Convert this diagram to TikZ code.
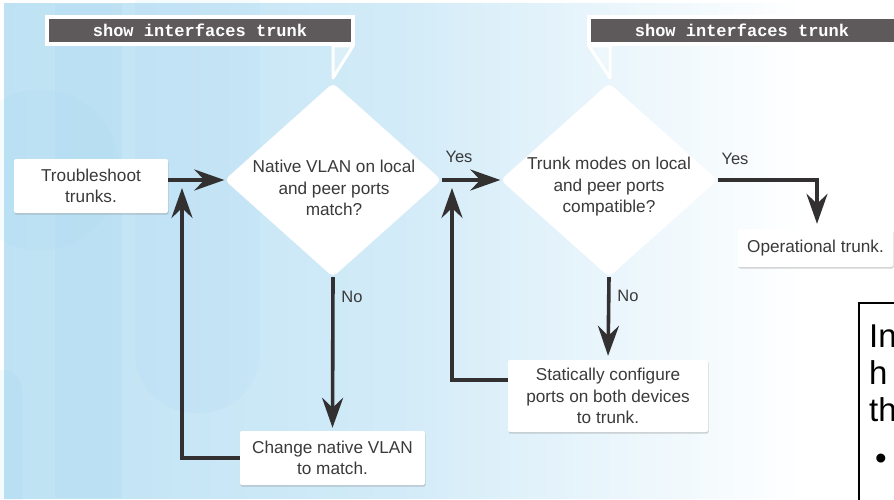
\documentclass[tikz,border=0pt]{standalone}
\usepackage{fontspec}
\setmainfont{Liberation Sans}
\newfontfamily\monof{Liberation Mono}
\usetikzlibrary{shapes.geometric,arrows.meta,shadows,calc}

\definecolor{bgl}{RGB}{190,226,244}
\definecolor{bgm}{RGB}{210,235,248}
\definecolor{calgray}{RGB}{94,90,91}
\definecolor{arrc}{RGB}{50,48,49}
\definecolor{txt}{RGB}{58,58,58}
\definecolor{pillc}{RGB}{140,200,235}

\pgfdeclarehorizontalshading{bgshade}{100bp}{color(0bp)=(bgl); color(25bp)=(bgl); color(47bp)=(bgm); color(70bp)=(white); color(100bp)=(white)}

\begin{document}
\begin{tikzpicture}[x=1pt,y=-1pt,
  flowbox/.style={fill=white, rounded corners=2pt, inner sep=0pt,
    drop shadow={shadow xshift=0.6pt, shadow yshift=-1.6pt, opacity=0.35},
    font=\fontsize{17.2}{21.5}\selectfont, text=txt, align=center},
  dia/.style={diamond, fill=white, inner sep=0pt, minimum width=217pt,
    minimum height=194pt, rounded corners=5pt},
  ftext/.style={font=\fontsize{17.2}{21.5}\selectfont, text=txt, align=center, inner sep=0pt},
  lbl/.style={font=\fontsize{16.5}{19}\selectfont, text=txt, inner sep=0pt},
  conn/.style={draw=arrc, line width=3.6pt, -{Stealth[length=30pt,width=21pt,inset=10pt]}},
  calltext/.style={font=\monof\bfseries\fontsize{17}{20}\selectfont, text=white, inner sep=0pt},
  callbox/.style={fill=calgray, draw=white, line width=4pt},
  calltail/.style={draw=white, line width=3pt, fill=white, fill opacity=0.25, line join=round},
  bigtext/.style={font=\fontsize{33}{37}\selectfont, text=black, inner sep=0pt, anchor=base west},
]
\useasboundingbox (0,0) rectangle (894,500);
\clip (0,0) rectangle (894,500);
% background
\fill[white] (0,0) rectangle (894,500);
\shade[shading=bgshade] (4,4) rectangle (894,498);
\fill[pillc, opacity=0.11] (55,4) rectangle (122,498);
\fill[pillc, opacity=0.07, rounded corners=60pt] (135,-80) rectangle (260,413);
\fill[pillc, opacity=0.07] (40,170) circle (80);
\fill[pillc, opacity=0.09, rounded corners=20pt] (-20,370) rectangle (22,520);

% callout 1
\draw[calltail] (333,46) -- (353,46) -- (333,78) -- cycle;
\path[callbox] (47,17) rectangle (353,44);
\node[calltext] (c1) at (200,30.5) {show interfaces trunk};
% callout 2
\draw[calltail] (589,46) -- (610,46) -- (610,78) -- cycle;
\path[callbox] (589,17) rectangle (910,44);
\node[calltext] (c2) at (742,30.5) {show interfaces trunk};

% nodes
\node[flowbox, minimum width=154pt, minimum height=54pt] (start) at (91,186) {Troubleshoot\\trunks.};
\node[dia] (d1) at (333,180) {};
\node[ftext] (d1t) at (334,188) {Native VLAN on local\\and peer ports\\match?};
\node[dia] (d2) at (609,180) {};
\node[ftext] (d2t) at (609,187) {Trunk modes on local\\and peer ports\\compatible?};
\node[flowbox, minimum width=185pt, minimum height=54pt] (change) at (332.5,458) {Change native VLAN\\to match.};
\node[flowbox, minimum width=200pt, minimum height=72pt] (stat) at (608,396) {Statically configure\\ports on both devices\\to trunk.};
\node[flowbox, minimum width=155pt, minimum height=38pt] (op) at (815.5,248) {Operational trunk.};

\coordinate (u1) at (182,188);
\coordinate (u2) at (452,188);

% connectors
\draw[conn] (start.east |- d1.west) -- (d1.west);
\draw[conn] (d1.east) -- (d2.west);
\draw[conn, shorten >=3pt] (d1.south) -- (change.north);
\draw[conn] (change.west) -| (u1);
\draw[conn, shorten >=4pt] (d2.south) -- (stat.north);
\draw[conn] ([yshift=16pt]stat.west) -| (u2);
\draw[conn, shorten >=5pt] (d2.east) -| ([xshift=1.5pt]op.north);

% labels
\node[lbl] (y1) at (459,157) {Yes};
\node[lbl] (n1) at (352,297) {No};
\node[lbl] (y2) at (735,159) {Yes};
\node[lbl] (n2) at (628,296) {No};

% partial box at right (cut by the picture's edge, as in the reference)
\draw[black, line width=1.3pt, fill=white] (859,303) rectangle (920,520);
\node[bigtext] (l1) at (869,347) {In};
\node[bigtext] (l2) at (869,384) {h};
\node[bigtext] (l3) at (869,421) {th};
\node[bigtext] (l4) at (875,469) {•};
\end{tikzpicture}
\end{document}
